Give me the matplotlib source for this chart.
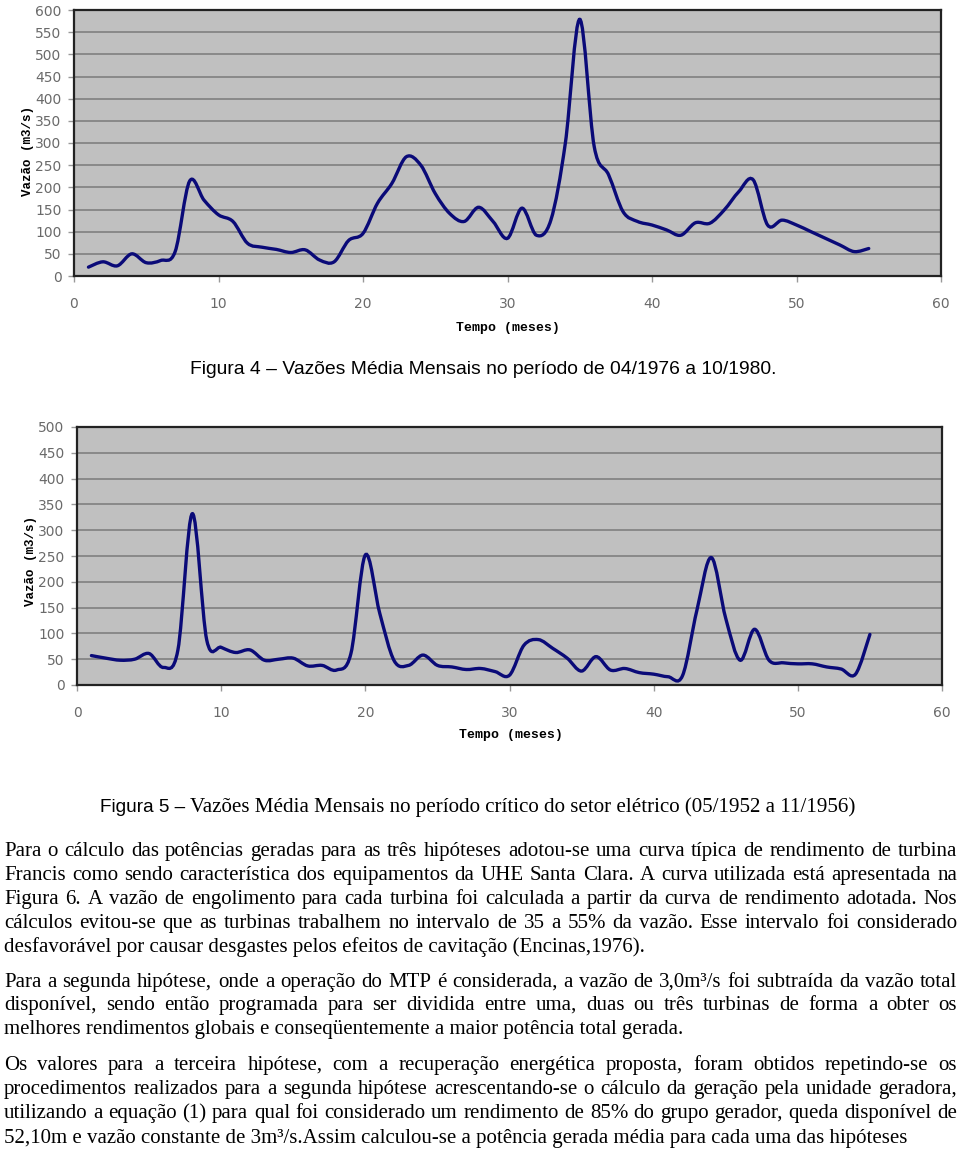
import numpy as np
import matplotlib
matplotlib.use("Agg")
import matplotlib.pyplot as plt
from matplotlib.path import Path
from matplotlib.patches import PathPatch
from matplotlib.font_manager import FontProperties

# ---------------- data ----------------
months1 = list(range(1, 56))
flow1 = [20, 32, 23, 50, 30, 35, 55, 214, 171, 138, 123, 74, 65, 60, 53, 59, 36, 32, 80, 96,
         164, 209, 269, 250, 186, 141, 123, 155, 123, 85, 153, 92, 126, 299, 579, 292, 228, 145,
         123, 115, 104, 92, 120, 119, 149, 190, 217, 115, 126, 115, 100, 85, 70, 55, 62]
months2 = list(range(1, 56))
flow2 = [57, 52, 48, 50, 61, 34, 68, 332, 87, 73, 63, 68, 48, 50, 52, 37, 38, 29, 61, 252,
         139, 47, 38, 58, 38, 35, 30, 32, 26, 19, 77, 88, 71, 52, 27, 55, 29, 32, 24, 21,
         16, 18, 145, 247, 129, 48, 108, 48, 43, 41, 41, 35, 31, 21, 98]
xticks = [0, 10, 20, 30, 40, 50, 60]
yticks1 = list(range(0, 601, 50))
yticks2 = list(range(0, 501, 50))
ylabel = "Vazão (m3/s)"
xlabel = "Tempo (meses)"
caption4 = "Figura 4 – Vazões Média Mensais no período de 04/1976 a 10/1980."
caption5a = "Figura 5 –"
caption5b = "Vazões Média Mensais no período crítico do setor elétrico (05/1952 a 11/1956)"
paragraphs = [
    ["Para o cálculo das potências geradas para as três hipóteses adotou-se uma curva típica de rendimento de turbina",
     "Francis como sendo característica dos equipamentos da UHE Santa Clara. A curva utilizada está apresentada na",
     "Figura 6. A vazão de engolimento para cada turbina foi calculada a partir da curva de rendimento adotada. Nos",
     "cálculos evitou-se que as turbinas trabalhem no intervalo de 35 a 55% da vazão. Esse intervalo foi considerado",
     "desfavorável por causar desgastes pelos efeitos de cavitação (Encinas,1976)."],
    ["Para a segunda hipótese, onde a operação do MTP é considerada, a vazão de 3,0m³/s foi subtraída da vazão total",
     "disponível, sendo então programada para ser dividida entre uma, duas ou três turbinas de forma a obter os",
     "melhores rendimentos globais e conseqüentemente a maior potência total gerada."],
    ["Os valores para a terceira hipótese, com a recuperação energética proposta, foram obtidos repetindo-se os",
     "procedimentos realizados para a segunda hipótese acrescentando-se o cálculo da geração pela unidade geradora,",
     "utilizando a equação (1) para qual foi considerado um rendimento de 85% do grupo gerador, queda disponível de",
     "52,10m e vazão constante de 3m³/s.Assim calculou-se a potência gerada média para cada uma das hipóteses"],
]
baselines = [[856, 880, 904, 928, 952], [987, 1010, 1034], [1070, 1094, 1118, 1143]]

W, H = 960, 1155
fig = plt.figure(figsize=(W / 100, H / 100), dpi=100)
fig.patch.set_facecolor("white")


def fx(x):
    return x / W


def fy(y):
    return 1 - y / H


def smooth_path(xs, ys):
    p = np.column_stack([xs, ys]).astype(float)
    n = len(p)
    verts = [p[0]]
    codes = [Path.MOVETO]
    for i in range(n - 1):
        p0 = p[i - 1] if i > 0 else p[i]
        p1 = p[i]
        p2 = p[i + 1]
        p3 = p[i + 2] if i + 2 < n else p[i + 1]
        c1 = p1 + (p2 - p0) / 6.0
        c2 = p2 - (p3 - p1) / 6.0
        verts += [c1, c2, p2]
        codes += [Path.CURVE4] * 3
    return Path(verts, codes)


def make_chart(rect, xs, ys, yticks, ymax, ylab_pos, xlab_pos):
    ax = fig.add_axes(rect)
    ax.set_facecolor("#C0C0C0")
    ax.set_xlim(0, 60)
    ax.set_ylim(0, ymax)
    ax.set_xticks(xticks)
    ax.set_yticks(yticks)
    ax.set_xticklabels([str(t) for t in xticks])
    ax.set_yticklabels([str(t) for t in yticks])
    ax.yaxis.grid(True, color="#808080", linewidth=1.2)
    ax.set_axisbelow(True)
    for s in ax.spines.values():
        s.set_color("#222222")
        s.set_linewidth(1.6)
    ax.tick_params(axis="both", colors="#999999", labelcolor="#6a6a6a", labelsize=10,
                   length=4, width=1)
    ax.tick_params(axis="x", pad=11)
    ax.tick_params(axis="y", pad=5)
    patch = PathPatch(smooth_path(xs, ys), facecolor="none", edgecolor="#0A0A78",
                      linewidth=2.4, transform=ax.transData, zorder=3, capstyle="round")
    ax.add_patch(patch)
    ax.set_ylabel(ylabel, fontfamily="Liberation Mono", fontweight="bold", fontsize=9)
    ax.set_xlabel(xlabel, fontfamily="Liberation Mono", fontweight="bold", fontsize=9.5)
    ax.yaxis.set_label_coords(*ylab_pos)
    ax.xaxis.set_label_coords(*xlab_pos)
    return ax


make_chart([fx(74), fy(276), 867 / W, 266 / H], months1, flow1, yticks1, 600,
           (-0.046, 0.47), (0.5, -0.172))
make_chart([fx(77), fy(685), 865 / W, 258 / H], months2, flow2, yticks2, 500,
           (-0.046, 0.48), (0.502, -0.17))

renderer = fig.canvas.get_renderer()


def tw(s, fp):
    w, h, d = renderer.get_text_width_height_descent(s, fp, ismath=False)
    return w


def fit_size(s, family, target, weight="normal"):
    fp = FontProperties(family=family, size=10, weight=weight)
    return 10 * target / tw(s, fp)


# captions
sz4 = fit_size(caption4, "Liberation Sans", 585)
fig.text(fx(190), fy(374), caption4, fontfamily="Liberation Sans", fontsize=sz4,
         ha="left", va="baseline", color="black")
sz5a = fit_size(caption5a, "Liberation Sans", 86)
sz5b = fit_size(caption5b, "Liberation Serif", 667)
fig.text(fx(100), fy(812), caption5a, fontfamily="Liberation Sans", fontsize=sz5a,
         ha="left", va="baseline", color="black")
fig.text(fx(190), fy(812), caption5b, fontfamily="Liberation Serif", fontsize=sz5b,
         ha="left", va="baseline", color="black")

# body text font size calibrated from non-justified last lines
cal = [(paragraphs[0][-1], 636), (paragraphs[1][-1], 682), (paragraphs[2][-1], 906)]
body_size = np.mean([fit_size(s, "Liberation Serif", w) for s, w in cal])
fpb = FontProperties(family="Liberation Serif", size=body_size)
left, right = 4, 957
for para, bls in zip(paragraphs, baselines):
    for i, (line, bl) in enumerate(zip(para, bls)):
        last = i == len(para) - 1
        if last:
            fig.text(fx(left), fy(bl), line, fontproperties=fpb, ha="left", va="baseline")
            continue
        words = line.split(" ")
        widths = [tw(wd, fpb) for wd in words]
        gap = (right - left - sum(widths)) / (len(words) - 1)
        x = left
        for wd, wdt in zip(words, widths):
            fig.text(fx(x), fy(bl), wd, fontproperties=fpb, ha="left", va="baseline")
            x += wdt + gap

fig.savefig("out.png", dpi=100)
